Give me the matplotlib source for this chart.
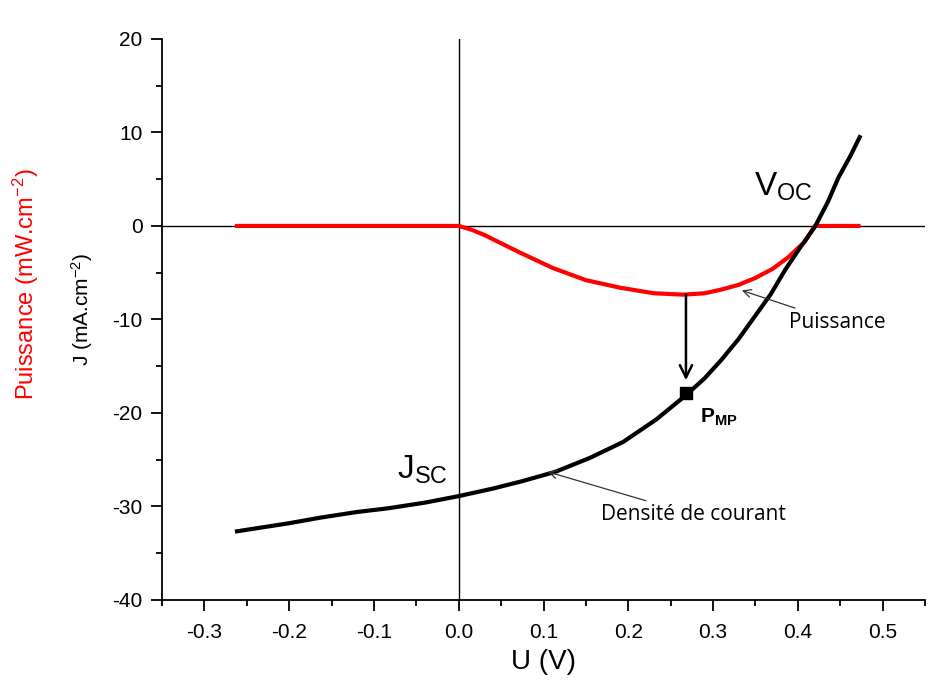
import matplotlib.pyplot as plt
import numpy as np
from matplotlib.ticker import MultipleLocator

plt.rcParams['font.family'] = ['Liberation Sans', 'DejaVu Sans']
plt.rcParams['mathtext.fontset'] = 'custom'
plt.rcParams['mathtext.rm'] = 'Liberation Sans'
plt.rcParams['mathtext.it'] = 'Liberation Sans:italic'
plt.rcParams['mathtext.bf'] = 'Liberation Sans:bold'

# current density J (mA/cm2) vs U (V)
U_j = [-0.264, -0.2, -0.163, -0.12, -0.083, -0.04, 0.0, 0.04, 0.075, 0.114, 0.155, 0.194,
       0.233, 0.268, 0.29, 0.31, 0.33, 0.349, 0.368, 0.385, 0.402, 0.42, 0.435, 0.448,
       0.462, 0.474]
J = [-32.7, -31.8, -31.2, -30.6, -30.2, -29.6, -28.9, -28.1, -27.3, -26.3, -24.8, -23.1,
     -20.7, -18.1, -16.3, -14.3, -12.1, -9.7, -7.3, -4.7, -2.4, -0.1, 2.5, 5.2,
     7.5, 9.7]

# power (mW/cm2) vs U
U_p = [-0.264, 0.0, 0.015, 0.031, 0.071, 0.111, 0.150, 0.190, 0.230, 0.265, 0.29, 0.31,
       0.33, 0.349, 0.37, 0.388, 0.408, 0.42, 0.474]
P = [0.0, 0.0, -0.4, -1.0, -2.8, -4.5, -5.8, -6.6, -7.2, -7.35, -7.2, -6.8,
     -6.3, -5.6, -4.6, -3.4, -1.7, 0.0, 0.0]

U_mp, J_mp, P_mp = 0.268, -17.9, -7.35

fig = plt.figure(figsize=(9.42, 6.84), dpi=100)
ax = fig.add_axes([0.172, 0.123, 0.81, 0.82])

ax.axhline(0, color='black', lw=1)
ax.axvline(0, color='black', lw=1)
ax.plot(U_p, P, color='red', lw=3, solid_capstyle='butt', solid_joinstyle='round')
ax.plot(U_j, J, color='black', lw=3, solid_capstyle='butt', solid_joinstyle='round')
ax.plot([U_mp], [J_mp], 's', color='black', ms=9)

ax.annotate('', xy=(U_mp, J_mp + 1.4), xytext=(U_mp, P_mp),
            arrowprops=dict(arrowstyle='->', color='black', lw=1.8, mutation_scale=22,
                            shrinkA=0, shrinkB=0))
ax.annotate('Puissance', xy=(0.334, -6.9), xytext=(0.39, -10.3),
            fontsize=15, va='center', family=['Open Sans', 'DejaVu Sans'],
            arrowprops=dict(arrowstyle='->', color='#333333', lw=0.9, mutation_scale=14,
                            shrinkA=2, shrinkB=0))
ax.annotate('Densité de courant', xy=(0.105, -26.3), xytext=(0.168, -30.9),
            fontsize=15, va='center', family=['Open Sans', 'DejaVu Sans'],
            arrowprops=dict(arrowstyle='->', color='#333333', lw=0.9, mutation_scale=14,
                            shrinkA=2, shrinkB=0))
ax.text(0.284, -21.0, r'P$_{\mathbf{MP}}$', fontsize=15, fontweight='bold')
ax.text(-0.073, -27.0, r'J$_{\mathrm{SC}}$', fontsize=24)
ax.text(0.348, 3.2, r'V$_{\mathrm{OC}}$', fontsize=24)

ax.set_xlim(-0.35, 0.55)
ax.set_ylim(-40, 20)
ax.xaxis.set_minor_locator(MultipleLocator(0.05))
ax.yaxis.set_minor_locator(MultipleLocator(5))
ax.set_xticks([-0.3, -0.2, -0.1, 0.0, 0.1, 0.2, 0.3, 0.4, 0.5])
ax.set_xticklabels(['-0.3', '-0.2', '-0.1', '0.0', '0.1', '0.2', '0.3', '0.4', '0.5'])
ax.set_yticks([-40, -30, -20, -10, 0, 10, 20])
ax.set_yticklabels(['-40', '-30', '-20', '-10', '0', '10', '20'])
ax.tick_params(which='major', length=8, width=1.3, labelsize=15)
ax.tick_params(axis='x', which='major', pad=9)
ax.tick_params(axis='y', which='major', pad=6)
ax.tick_params(which='minor', length=4, width=1.3)
for s in ['top', 'right']:
    ax.spines[s].set_visible(False)
for s in ['left', 'bottom']:
    ax.spines[s].set_linewidth(1.3)

ax.set_xlabel('U (V)', fontsize=20, labelpad=5)
ax.set_ylabel(r'J (mA.cm$^{-2}$)', fontsize=15)
ax.yaxis.set_label_coords(-0.088, 0.517)
fig.text(0.027, 0.585, r'Puissance (mW.cm$^{-2}$)', color='red', fontsize=17,
         rotation=90, ha='center', va='center')

fig.savefig('out.png', dpi=100)
